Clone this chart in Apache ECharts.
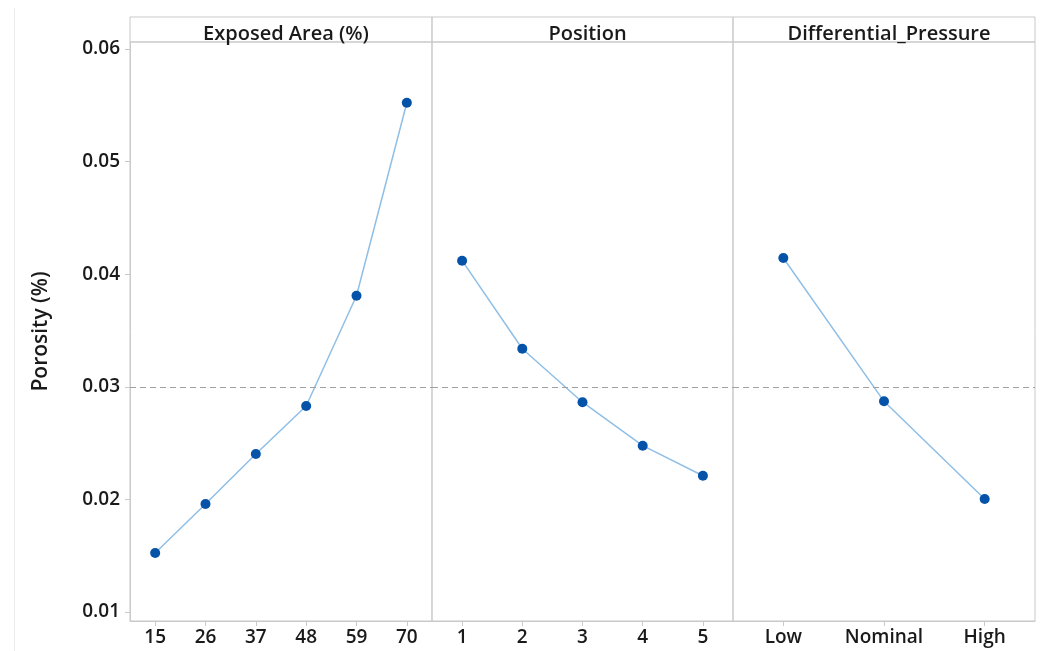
<!DOCTYPE html>
<html>
<head>
<meta charset="utf-8">
<script src="https://cdn.jsdelivr.net/npm/echarts@6/dist/echarts.min.js"></script>
<style>html,body{margin:0;padding:0;background:#fff}#c{width:1041px;height:651px}</style>
</head>
<body>
<div id="c"></div>
<script>
const panelTitles = ['Exposed Area (%)', 'Position', 'Differential_Pressure'];
const exposedCats = ['15', '26', '37', '48', '59', '70'];
const exposedVals = [0.01524, 0.01959, 0.02403, 0.02829, 0.03809, 0.05523];
const positionCats = ['1', '2', '3', '4', '5'];
const positionVals = [0.0412, 0.03338, 0.02863, 0.02477, 0.0221];
const pressureCats = ['Low', 'Nominal', 'High'];
const pressureVals = [0.04144, 0.02871, 0.02004];
const yTicks = [0.01, 0.02, 0.03, 0.04, 0.05, 0.06];
const refMean = 0.03;
const yAxisTitle = 'Porosity (%)';

const FONT = 'Open Sans';
const gridColor = '#c9c9c9';
const panels = [
  {left: 130, width: 302, cats: exposedCats, vals: exposedVals},
  {left: 432, width: 301, cats: positionCats, vals: positionVals},
  {left: 733, width: 302, cats: pressureCats, vals: pressureVals}
];
const yMin = 0.009201, yMax = 0.060622;

const grids = [], xAxes = [], yAxes = [], series = [], titles = [];
panels.forEach((p, i) => {
  grids.push({left: p.left, width: p.width, top: 42, bottom: 30, show: true, borderColor: gridColor, borderWidth: 1, containLabel: false});
  grids.push({left: p.left, width: p.width, top: 17, height: 25, show: true, borderColor: gridColor, borderWidth: 1});
  xAxes.push({
    type: 'category', gridIndex: 2 * i, data: p.cats, boundaryGap: true,
    axisLine: {show: true, lineStyle: {color: gridColor}},
    axisTick: {show: true, alignWithLabel: true, interval: 0, length: 5, lineStyle: {color: gridColor}},
    axisLabel: {interval: 0, hideOverlap: false, color: '#1a1a1a', fontFamily: FONT, fontWeight: 600, fontSize: 19, margin: 7},
    splitLine: {show: false}
  });
  xAxes.push({type: 'category', gridIndex: 2 * i + 1, data: [''], show: false});
  yAxes.push({
    type: 'value', gridIndex: 2 * i, min: yMin, max: yMax,
    axisLine: {show: i === 0, lineStyle: {color: gridColor}},
    axisTick: {show: i === 0, length: 5, customValues: yTicks, lineStyle: {color: gridColor}},
    axisLabel: {show: i === 0, customValues: yTicks, formatter: v => v.toFixed(2), color: '#1a1a1a', fontFamily: FONT, fontWeight: 600, fontSize: 19, margin: 10},
    splitLine: {show: false},
    name: i === 0 ? yAxisTitle : '',
    nameLocation: 'middle', nameGap: 78,
    nameTextStyle: {color: '#1a1a1a', fontFamily: FONT, fontWeight: 600, fontSize: 21}
  });
  yAxes.push({type: 'value', gridIndex: 2 * i + 1, show: false, min: 0, max: 1});
  series.push({
    type: 'line', xAxisIndex: 2 * i, yAxisIndex: 2 * i, data: p.vals,
    symbol: 'circle', symbolSize: 10,
    itemStyle: {color: '#0553a8'},
    lineStyle: {color: '#8fbfe6', width: 1.5},
    z: 3,
    markLine: {
      silent: true, symbol: 'none', label: {show: false},
      lineStyle: {type: [6, 4], color: '#a0a0a0', width: 1.2},
      data: [{yAxis: refMean}]
    }
  });
  titles.push({
    text: panelTitles[i], left: p.left + p.width / 2, top: 16, textAlign: 'center',
    textStyle: {color: '#1a1a1a', fontFamily: FONT, fontWeight: 600, fontSize: 20, lineHeight: 26}
  });
});

const chart = echarts.init(document.getElementById('c'), null, {renderer: 'canvas'});
chart.setOption({
  animation: false,
  backgroundColor: '#fff',
  title: titles,
  grid: grids,
  xAxis: xAxes,
  yAxis: yAxes,
  series: series,
  graphic: [{type: 'line', shape: {x1: 14.5, y1: 8, x2: 14.5, y2: 651}, style: {stroke: '#ececec', lineWidth: 1}, silent: true}]
});
</script>
</body>
</html>
